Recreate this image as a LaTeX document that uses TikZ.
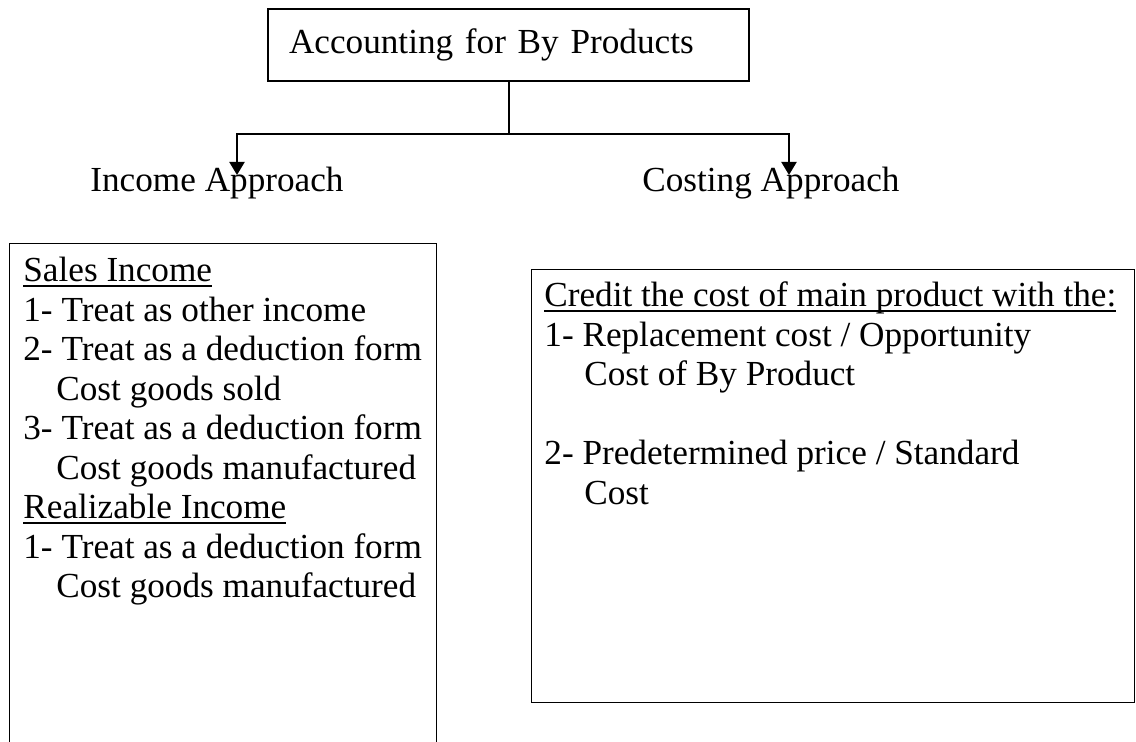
\documentclass[tikz,border=0pt]{standalone}
\usepackage{fontspec}
\setmainfont{Liberation Serif}
\usetikzlibrary{arrows.meta}

\newcommand{\undl}[1]{\setbox0\hbox{#1}\rlap{\rule[-2.4pt]{\wd0}{0.8pt}}\box0}

\begin{document}
\begin{tikzpicture}[x=0.5pt, y=-0.5pt,
	every node/.style={font=\fontsize{17.6}{19.75}\selectfont},
	box/.style={draw=black, line width=0.6pt, rectangle, inner sep=0pt},
	plaintext/.style={anchor=base west, inner sep=0pt},
	link/.style={line width=1pt},
	arrowlink/.style={link, -{Triangle[length=6.5pt,width=7.5pt]}}]
	
	\clip (0,0) rectangle (1136,742);
	
	\node[box, minimum width=240.5pt, minimum height=36pt, text width=219.5pt, inner xsep=10.5pt, align=left] (title) at (508.5,45) {Accounting for By Products};
	
	\node[plaintext] (income)  at (90,192)  {Income Approach};
	\node[plaintext] (costing) at (642,192) {Costing Approach};
	
	\node[box, minimum width=213.5pt, minimum height=258.5pt, anchor=north west] (incBox)  at (9,243)   {};
	\node[box, minimum width=301.5pt, minimum height=216.5pt, anchor=north west] (costBox) at (531,269) {};
	
	\node[plaintext] (incText) at (23,282) {\begin{tabular}[t]{@{}l@{}}
		\undl{Sales Income}\\
		1- Treat as other income\\
		2- Treat as a deduction form\\
		\hspace*{16.5pt}Cost goods sold\\
		3- Treat as a deduction form\\
		\hspace*{16.5pt}Cost goods manufactured\\
		\undl{Realizable Income}\\
		1- Treat as a deduction form\\
		\hspace*{16.5pt}Cost goods manufactured
	\end{tabular}};
	
	\node[plaintext] (costText) at (544,307) {\begin{tabular}[t]{@{}l@{}}
		\undl{Credit the cost of main product with the:}\\
		1- Replacement cost / Opportunity\\
		\hspace*{20pt}Cost of By Product\\
		\\
		2- Predetermined price / Standard\\
		\hspace*{20pt}Cost
	\end{tabular}};
	
	\coordinate (incTip)  at (237,175);
	\coordinate (costTip) at (789,175);
	
	\draw[link] (title.south) -- ++(0,52) coordinate (fork);
	\draw[arrowlink] (fork) -| (incTip);
	\draw[arrowlink] (fork) -| (costTip);
	
\end{tikzpicture}
\end{document}
